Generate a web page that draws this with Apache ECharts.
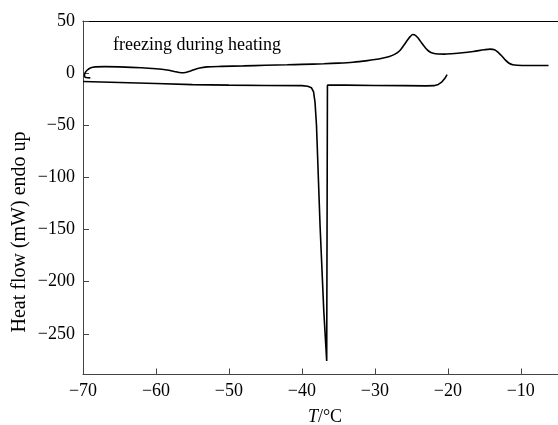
<!DOCTYPE html>
<html>
<head>
<meta charset="utf-8">
<script src="https://cdn.jsdelivr.net/npm/echarts@6/dist/echarts.min.js"></script>
<style>
  html, body { margin: 0; padding: 0; background: #fff; }
  #main { width: 558px; height: 425px; }
</style>
</head>
<body>
<div id="main"></div>
<script>
    // heating curve (T in °C, heat flow in mW)
    var heatT = [-69.0, -69.6, -69.8, -69.7, -69.4, -69.0, -68.3, -67, -65, -62, -60, -58.5, -57.5, -56.8, -56.2, -55.5, -54.8, -54, -53, -51, -48, -45, -42, -40, -37, -35, -33, -31, -30, -29, -28, -27.3, -26.6, -26, -25.5, -25.1, -24.8, -24.4, -24.0, -23.6, -23.1, -22.6, -22.0, -21.3, -20.5, -19.5, -18, -16.5, -15, -14.2, -13.6, -13.1, -12.6, -12.1, -11.6, -11.1, -10.5, -9, -6.2];
    var heatQ = [-4.5, -4.2, -2.5, 0.5, 3, 5, 6, 6.2, 6, 5.2, 4.2, 3, 1.6, 0.6, 0.4, 1.5, 3.3, 5, 6, 6.5, 7, 7.5, 8, 8.4, 9, 9.6, 10.5, 12, 13, 14.3, 16, 18, 21.5, 27, 32, 35.5, 37, 36, 33, 29, 24.5, 21, 19, 18.3, 18.2, 18.6, 19.5, 20.8, 22.4, 23, 22.5, 20, 16.5, 12.5, 9.5, 8, 7.5, 7.3, 7.3];
    // cooling curve, in recorded order (from -20 downwards)
    var coolT = [-20.1, -20.4, -20.8, -21.3, -21.9, -23, -26, -30, -34, -36.5, -36.6, -37.0, -37.5, -38.0, -38.2, -38.4, -38.7, -39.2, -40, -45, -50, -55, -60, -65, -70];
    var coolQ = [-1.5, -5, -8.3, -10.8, -12, -12.2, -12, -11.8, -11.5, -11.5, -276, -228, -148, -50, -28, -18, -14, -12.5, -12, -11.8, -11.5, -11, -10, -9, -8];
    var xTicks = [-70, -60, -50, -40, -30, -20, -10];
    var yTicks = [-250, -200, -150, -100, -50, 0, 50];

    function pairs(xs, ys) {
        var out = [];
        for (var i = 0; i < xs.length; i++) out.push([xs[i], ys[i]]);
        return out;
    }
    function minus(v) {
        return String(v).replace('-', '\u2212');
    }

    var font = 'Liberation Serif';
    var dom = document.getElementById('main');
    var myChart = echarts.init(dom);
    var option = {
        animation: false,
        backgroundColor: '#fff',
        title: {
            text: '{i|T}/°C',
            left: 320,
            top: 403,
            textAlign: 'center',
            textStyle: {
                fontFamily: font, fontSize: 18, fontWeight: 'normal', color: '#000',
                rich: { i: { fontFamily: font, fontSize: 18, fontStyle: 'italic', color: '#000' } }
            }
        },
        grid: { left: 83, right: 0, top: 21, bottom: 50.5 },
        xAxis: [{
            type: 'value',
            min: -70, max: -4.9,
            axisLine: { show: true, onZero: false, lineStyle: { color: '#444', width: 1 } },
            axisTick: { show: true, inside: true, length: 6, customValues: xTicks, lineStyle: { color: '#444' } },
            axisLabel: {
                customValues: xTicks,
                fontFamily: font, fontSize: 18, color: '#000', margin: 8,
                formatter: minus
            },
            splitLine: { show: false }
        }, {
            type: 'value', position: 'top',
            min: -70, max: -4.9,
            axisLine: { show: true, onZero: false, lineStyle: { color: '#000', width: 1 } },
            axisTick: { show: false }, axisLabel: { show: false }, splitLine: { show: false }
        }],
        yAxis: {
            type: 'value',
            min: -289, max: 50,
            axisLine: { show: true, onZero: false, lineStyle: { color: '#444', width: 1 } },
            axisTick: { show: true, inside: true, length: 6, customValues: yTicks, lineStyle: { color: '#444' } },
            axisLabel: {
                customValues: yTicks,
                fontFamily: font, fontSize: 18, color: '#000', margin: 8,
                formatter: minus
            },
            splitLine: { show: false }
        },
        series: [{
            name: 'heating',
            type: 'line',
            data: pairs(heatT, heatQ),
            showSymbol: false,
            smooth: 0.3,
            lineStyle: { color: '#000', width: 1.6 }
        }, {
            name: 'cooling',
            type: 'line',
            data: pairs(coolT, coolQ),
            showSymbol: false,
            lineStyle: { color: '#000', width: 1.6 }
        }],
        graphic: [{
            type: 'text',
            left: 113, top: 36,
            style: { text: 'freezing during heating', fontFamily: font, fontSize: 18, fill: '#000' }
        }, {
            // y axis title, placed like the original (below the plot centre)
            type: 'text',
            x: 20, y: 232,
            rotation: Math.PI / 2,
            style: {
                text: 'Heat flow (mW) endo up', fontFamily: font, fontSize: 20, fill: '#000',
                align: 'center', verticalAlign: 'middle'
            }
        }]
    };
    myChart.setOption(option);
</script>
</body>
</html>
